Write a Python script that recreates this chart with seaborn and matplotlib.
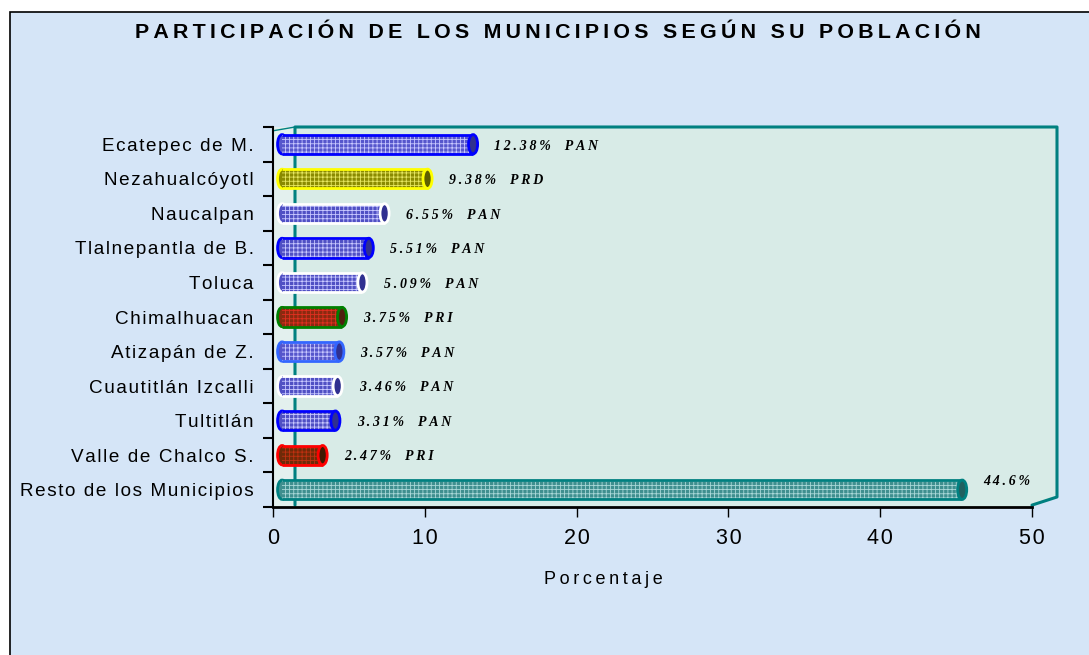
import matplotlib
matplotlib.use("Agg")
import matplotlib.pyplot as plt
import seaborn as sns
import pandas as pd
from matplotlib.patches import Ellipse, Polygon, Rectangle

# datos del grafico
municipios = ["Ecatepec de M.", "Nezahualcóyotl", "Naucalpan", "Tlalnepantla de B.",
              "Toluca", "Chimalhuacan", "Atizapán de Z.", "Cuautitlán Izcalli",
              "Tultitlán", "Valle de Chalco S.", "Resto de los Municipios"]
porcentaje = [12.38, 9.38, 6.55, 5.51, 5.09, 3.75, 3.57, 3.46, 3.31, 2.47, 44.6]
partido = ["PAN", "PRD", "PAN", "PAN", "PAN", "PRI", "PAN", "PAN", "PAN", "PRI", ""]
xticks = [0, 10, 20, 30, 40, 50]

# colores de cada cilindro
borde = ["#0000ff", "#ffff00", "#ffffff", "#0000ff", "#ffffff", "#008000",
         "#3366ff", "#ffffff", "#0000ff", "#ff0000", "#008080"]
relleno = ["#5656cc", "#8a8a00", "#5050c4", "#5050c4", "#5050c4", "#8a2a10",
           "#5656cc", "#5050c4", "#5050c4", "#6e2a08", "#3f8f8f"]
trama = ["#c8c8ff", "#e6e660", "#c8c8ff", "#c8c8ff", "#c8c8ff", "#e03020",
         "#c8c8ff", "#c8c8ff", "#c8c8ff", "#c03010", "#a8d8d8"]
tapa = ["#303090", "#606000", "#303090", "#303090", "#303090", "#502010",
        "#303090", "#303090", "#303090", "#401800", "#206060"]

FONDO = "#d5e5f7"
AREA = "#d8ebe7"
VERDE = "#008080"
HAIR = "\u200a"
THIN = "\u2009"


def spaced(s, sep=HAIR):
    return sep.join(s)


sns.set_theme(style="white")
plt.rcParams['font.family'] = ['Liberation Sans', 'DejaVu Sans']
plt.rcParams['text.color'] = 'black'
plt.rcParams['hatch.linewidth'] = 0.6

fig = plt.figure(figsize=(10.89, 6.55), dpi=100, facecolor="white")
fig.patches.append(Rectangle((10 / 1089, -0.02), 1.0, 1.02 - 12 / 655, transform=fig.transFigure,
                             facecolor=FONDO, edgecolor="black", linewidth=1.2, zorder=-10))

ax = fig.add_axes([273 / 1089, 1 - 507 / 655, 759 / 1089, 380 / 655])
ax.set_facecolor(AREA)

df = pd.DataFrame({"Municipio": municipios, "Porcentaje": porcentaje})
sns.barplot(data=df, x="Porcentaje", y="Municipio", hue="Municipio", palette=relleno,
            legend=False, width=0.56, saturation=1, ax=ax, zorder=3)

# convertir las barras en cilindros
inicio = 0.6
capw = 0.6
for p in list(ax.patches):
    h = p.get_height()
    i = int(round(p.get_y() + h / 2))
    fin = porcentaje[i] + 0.8
    y0 = p.get_y()
    p.set_x(inicio)
    p.set_width(fin - inicio)
    p.set_linewidth(0)
    p.set_facecolor(relleno[i])
    p.set_edgecolor(trama[i])
    p.set_hatch("++++")
    ax.add_patch(Ellipse((inicio, i), capw, h, facecolor=relleno[i], edgecolor=borde[i],
                         linewidth=2, zorder=2))
    ax.hlines([y0, y0 + h], inicio, fin, colors=borde[i], linewidth=2, zorder=4)
    ax.add_patch(Ellipse((fin, i), capw, h, facecolor=tapa[i], edgecolor=borde[i],
                         linewidth=2, zorder=5))
    etiqueta = spaced(f"{porcentaje[i]:g}%", THIN)
    if partido[i]:
        etiqueta += "    " + spaced(partido[i], THIN)
    ax.text(porcentaje[i] + 2.2, i + (-0.25 if not partido[i] else 0.05), etiqueta,
            ha="left", va="center", fontsize=10, fontweight="heavy", fontstyle="italic",
            color="black", family=["Liberation Serif", "DejaVu Serif"], zorder=6)

ax.set_xlim(0, 50)
ax.set_ylim(10.5, -0.5)
ax.set_xticks(xticks)
ax.set_xticklabels([spaced(str(t), HAIR) for t in xticks], fontsize=15.5)
ax.set_yticks(range(len(municipios)))
ax.set_yticklabels([spaced(m) for m in municipios], fontsize=13.6)
ax.set_yticks([k - 0.5 for k in range(len(municipios) + 1)], minor=True)
ax.tick_params(axis="y", which="major", length=0, pad=14, colors="black")
ax.tick_params(axis="y", which="minor", left=True, length=7, width=1.5, direction="out", color="black")
ax.tick_params(axis="x", which="major", bottom=True, length=7, width=1, direction="out", pad=8, colors="black")
ax.set_xlabel("")
ax.set_ylabel("")

for s in ["top", "right"]:
    ax.spines[s].set_visible(False)
ax.spines["left"].set_color("black")
ax.spines["left"].set_linewidth(1.5)
ax.spines["bottom"].set_color("black")
ax.spines["bottom"].set_linewidth(2)

# efecto 3D del area de trazado
pared = 22 / 759
lado = 25 / 759
ax.add_patch(Rectangle((0, 0), pared, 1, transform=ax.transAxes, facecolor="#e3f0ee",
                       edgecolor="none", zorder=0.5))
ax.add_patch(Polygon([(1, 0), (1 + lado, 10 / 380), (1 + lado, 1), (1, 1)], closed=True,
                     transform=ax.transAxes, facecolor=AREA, edgecolor="none",
                     clip_on=False, zorder=0.5))
ax.plot([pared, pared, 1 + lado, 1 + lado, 1], [0.005, 1, 1, 10 / 380, 0.005],
        transform=ax.transAxes, color=VERDE, linewidth=2.2, clip_on=False, zorder=1)
ax.plot([0, pared], [0.99, 1], transform=ax.transAxes, color=VERDE, linewidth=1,
        clip_on=False, zorder=1)

fig.text(558 / 1089, 1 - 32 / 655,
         spaced("PARTICIPACIÓN DE LOS MUNICIPIOS SEGÚN SU POBLACIÓN", THIN),
         ha="center", va="center", fontsize=15.4, fontweight="bold", color="black")
fig.text(603 / 1089, 1 - 580 / 655, spaced("Porcentaje", THIN), ha="center", va="center",
         fontsize=13, color="black")

fig.savefig("out.png", dpi=100, facecolor=fig.get_facecolor())
